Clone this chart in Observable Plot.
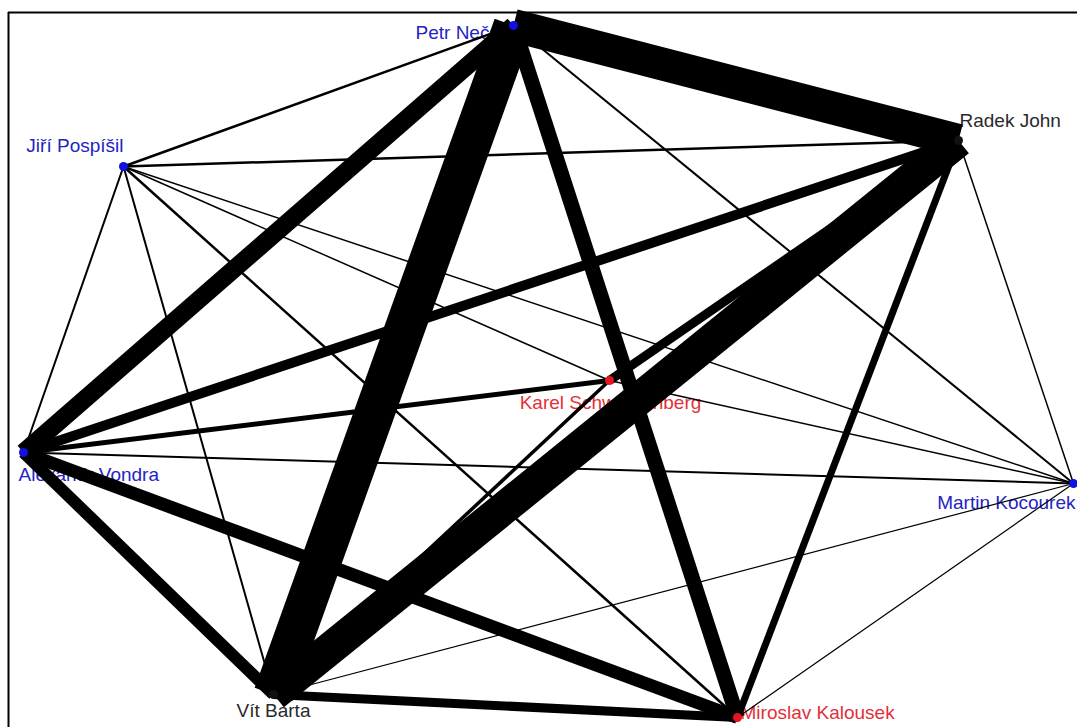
<!DOCTYPE html>
<html>
<head>
<meta charset="utf-8">
<script src="https://cdn.jsdelivr.net/npm/d3@7"></script>
<script src="https://cdn.jsdelivr.net/npm/@observablehq/plot@0.6"></script>
<style>
  html, body { margin: 0; padding: 0; background: #fff; overflow: hidden; }
  #chart svg { display: block; }
</style>
</head>
<body>
<div id="chart"></div>
<script>
// ---- Data: nodes (layout coordinates) ----
const nodeNames = ["Petr Nečas", "Radek John", "Jiří Pospíšil", "Karel Schwarzenberg",
                   "Alexandr Vondra", "Martin Kocourek", "Vít Barta", "Miroslav Kalousek"];
const nodeX = [513, 958, 123, 609, 23, 1073, 273, 737];
const nodeY = [25, 140, 166, 380, 452, 483, 694, 717];
const nodeParty = ["ODS", "VV", "ODS", "TOP 09", "ODS", "ODS", "VV", "TOP 09"];

// ---- Data: edges (weight = link strength) ----
const edgeSource = ["Petr Nečas", "Petr Nečas", "Petr Nečas", "Petr Nečas", "Petr Nečas", "Petr Nečas",
                    "Radek John", "Radek John", "Radek John", "Radek John", "Radek John", "Radek John",
                    "Jiří Pospíšil", "Jiří Pospíšil", "Jiří Pospíšil", "Jiří Pospíšil", "Jiří Pospíšil",
                    "Alexandr Vondra", "Alexandr Vondra", "Alexandr Vondra", "Alexandr Vondra",
                    "Karel Schwarzenberg", "Karel Schwarzenberg",
                    "Vít Barta", "Vít Barta", "Martin Kocourek"];
const edgeTarget = ["Radek John", "Vít Barta", "Alexandr Vondra", "Miroslav Kalousek", "Jiří Pospíšil", "Martin Kocourek",
                    "Vít Barta", "Alexandr Vondra", "Karel Schwarzenberg", "Miroslav Kalousek", "Jiří Pospíšil", "Martin Kocourek",
                    "Alexandr Vondra", "Vít Barta", "Miroslav Kalousek", "Karel Schwarzenberg", "Martin Kocourek",
                    "Vít Barta", "Miroslav Kalousek", "Karel Schwarzenberg", "Martin Kocourek",
                    "Vít Barta", "Martin Kocourek",
                    "Miroslav Kalousek", "Martin Kocourek", "Miroslav Kalousek"];
const edgeWeight = [33, 40, 18, 15, 2.5, 2,
                    33, 10, 9, 7, 2.5, 1.5,
                    2, 2, 2.5, 1.5, 1.5,
                    12, 13, 5, 2,
                    3.5, 1.5,
                    9, 1.2, 1.2];

// ---- Build tables ----
const nodes = nodeNames.map((name, i) => ({name, x: nodeX[i], y: nodeY[i], party: nodeParty[i]}));
const byName = new Map(nodes.map(d => [d.name, d]));
const edges = edgeSource.map((s, i) => ({
  x1: byName.get(s).x, y1: byName.get(s).y,
  x2: byName.get(edgeTarget[i]).x, y2: byName.get(edgeTarget[i]).y,
  w: edgeWeight[i]
}));

const dotColor = {"ODS": "#1010e0", "VV": "#111111", "TOP 09": "#e8141e"};
const textColor = {"ODS": "#2424c4", "VV": "#2a2a2a", "TOP 09": "#e2303a"};

// label placement (style): anchor and offset per node
const labelStyle = {
  "Petr Nečas":          {anchor: "end",    dx: -4, dy: 7},
  "Radek John":          {anchor: "start",  dx: 1,  dy: -20},
  "Jiří Pospíšil":       {anchor: "end",    dx: 0,  dy: -21},
  "Karel Schwarzenberg": {anchor: "middle", dx: 1,  dy: 22},
  "Alexandr Vondra":     {anchor: "start",  dx: -5, dy: 22},
  "Martin Kocourek":     {anchor: "end",    dx: 2,  dy: 19},
  "Vít Barta":           {anchor: "middle", dx: 0,  dy: 16},
  "Miroslav Kalousek":   {anchor: "start",  dx: 3,  dy: -5}
};

const xDomain = [8, 1077];
const yDomain = [12, 727];

const labelMarks = nodes.map(n => {
  const s = labelStyle[n.name];
  return Plot.text([n], {
    x: "x", y: "y", text: "name",
    textAnchor: s.anchor, dx: s.dx, dy: s.dy,
    fill: textColor[n.party],
    fontSize: 19, fontFamily: "'Liberation Sans', Arial, sans-serif"
  });
});

const chart = Plot.plot({
  width: 1077,
  height: 727,
  marginLeft: 8, marginTop: 12, marginRight: 0, marginBottom: 0,
  x: {domain: xDomain, range: [8, 1077], axis: null},
  y: {domain: yDomain, range: [12, 727], axis: null},
  style: {background: "#fff"},
  marks: [
    ...labelMarks,
    Plot.link(edges, {x1: "x1", y1: "y1", x2: "x2", y2: "y2", stroke: "#000", strokeWidth: "w", strokeLinecap: "butt"}),
    Plot.dot(nodes, {x: "x", y: "y", r: 4.5, fill: d => dotColor[d.party], stroke: "none"}),
    Plot.ruleX([xDomain[0]], {stroke: "#000", strokeWidth: 2}),
    Plot.ruleY([yDomain[0]], {stroke: "#000", strokeWidth: 2})
  ]
});
document.getElementById("chart").appendChild(chart);
</script>
</body>
</html>
